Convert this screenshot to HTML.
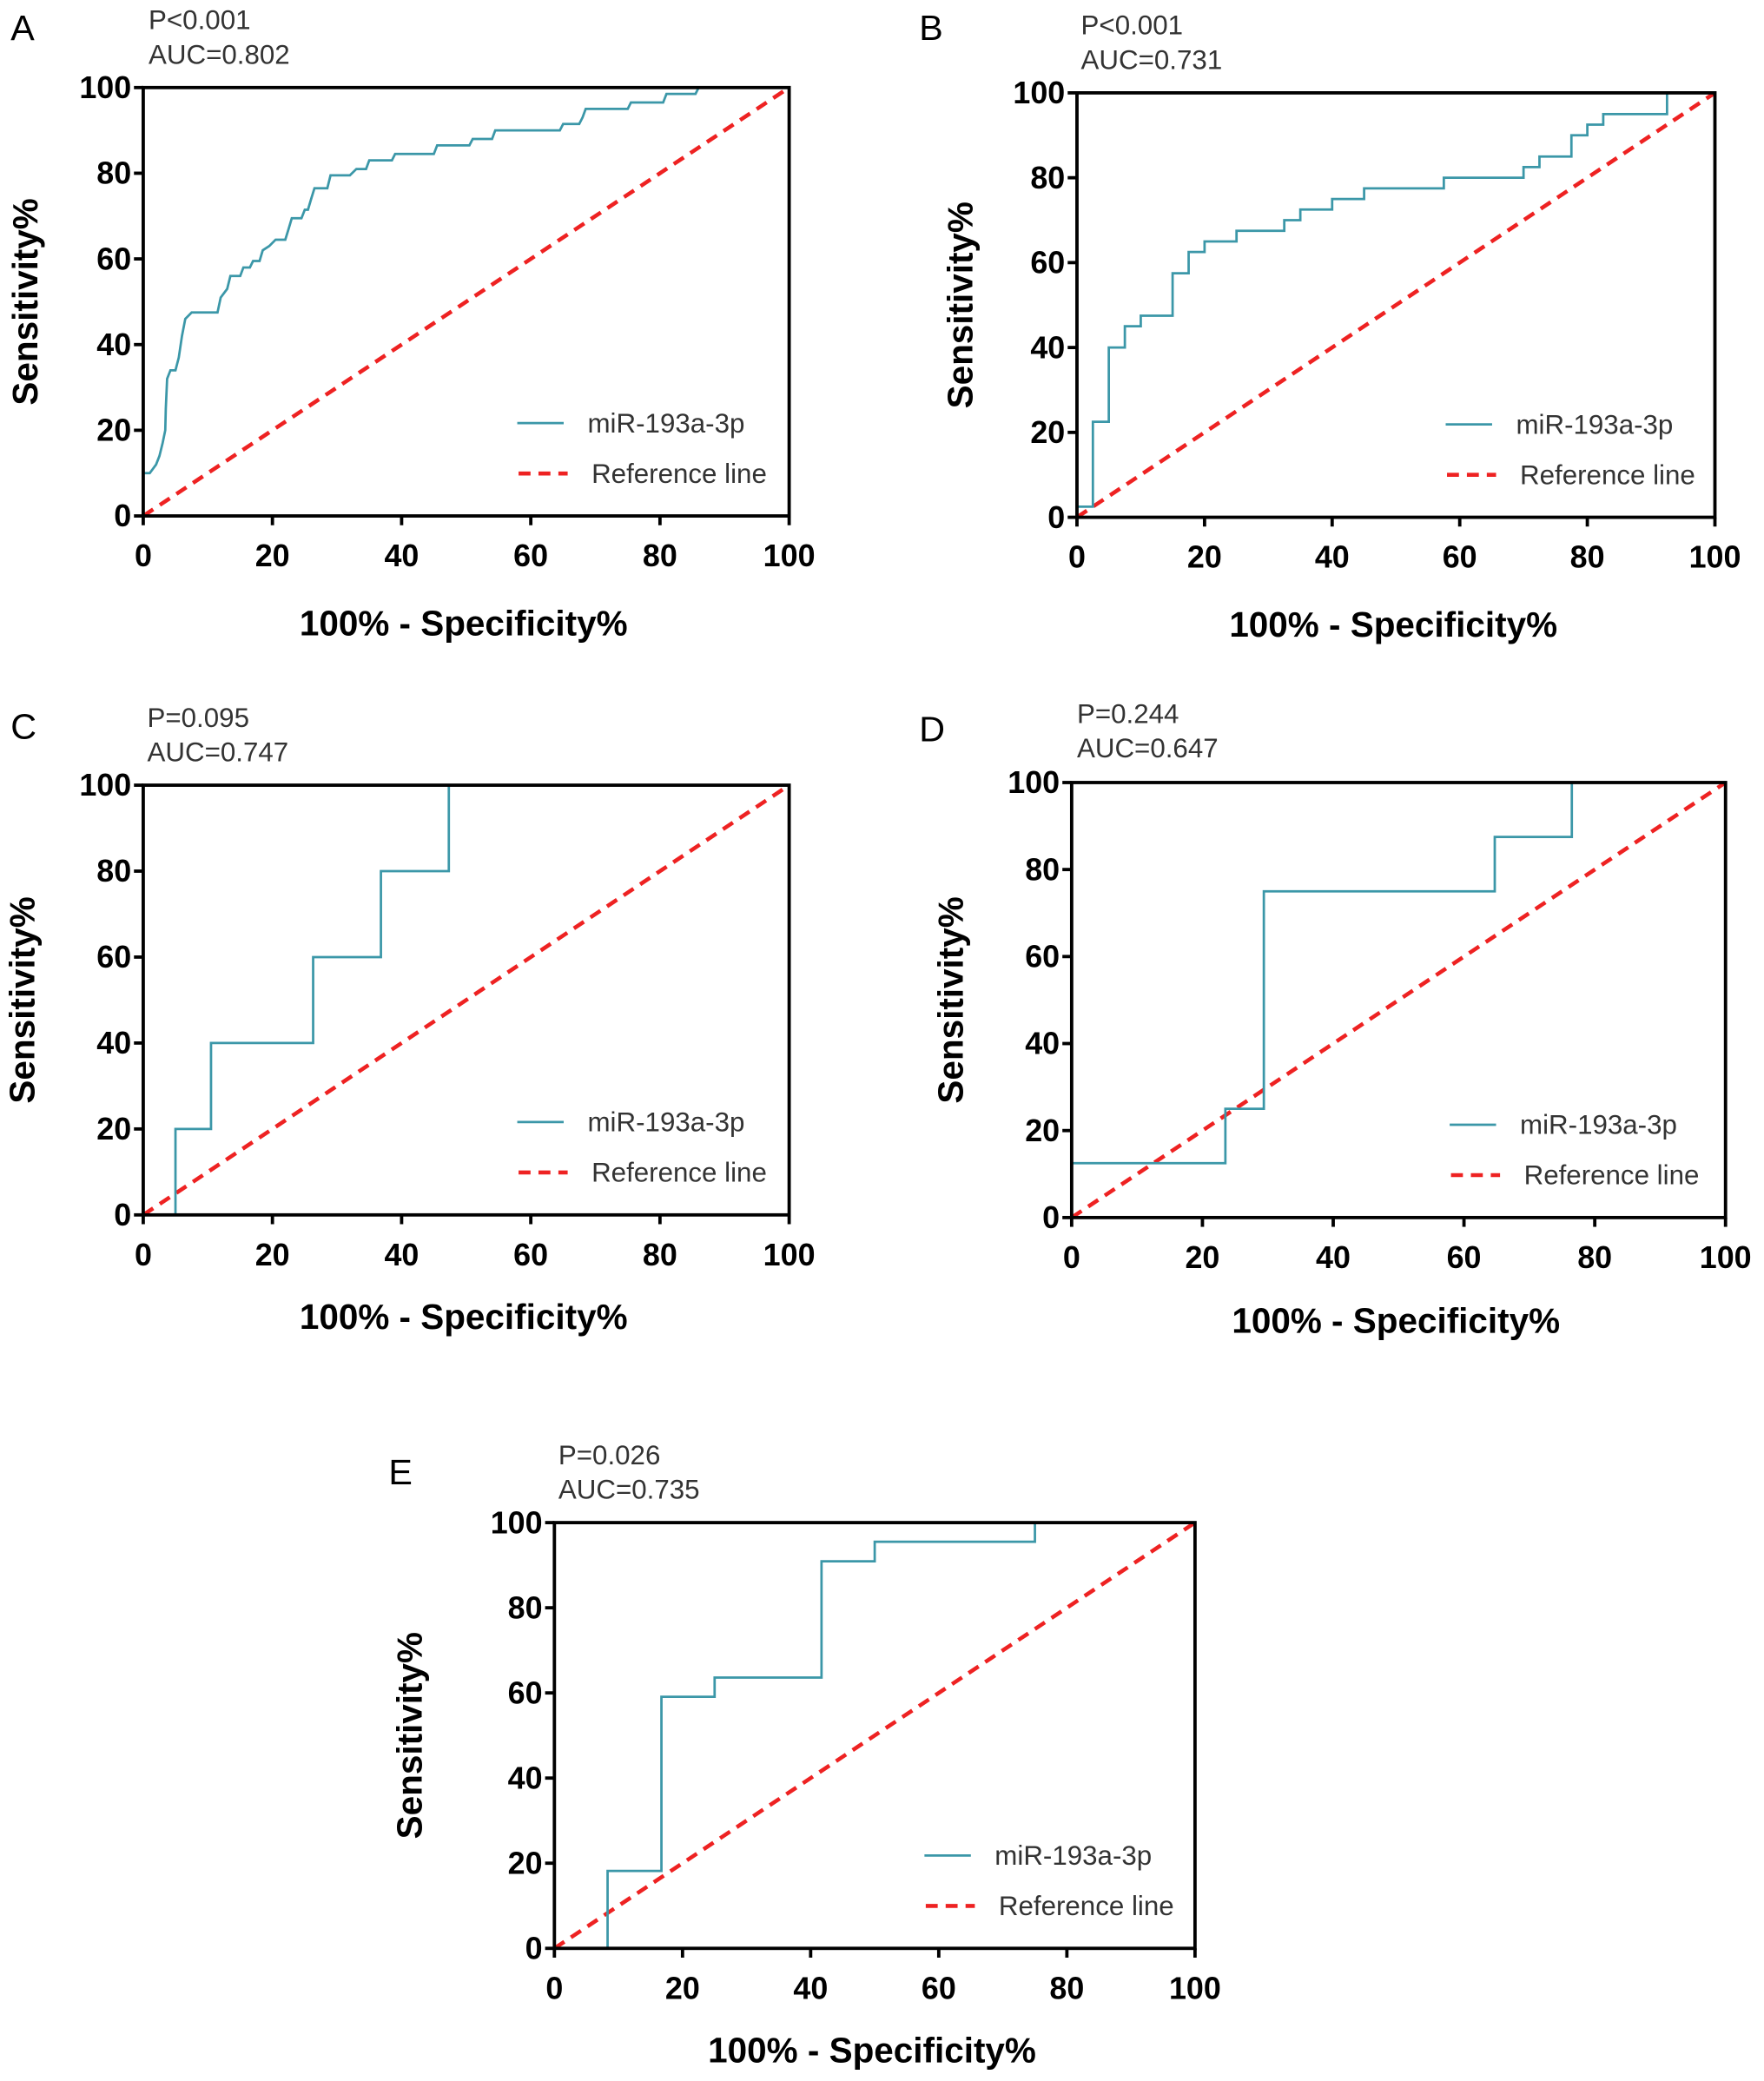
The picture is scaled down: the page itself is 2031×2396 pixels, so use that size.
<!DOCTYPE html>
<html><head><meta charset="utf-8"><style>
html,body{margin:0;padding:0;background:#fff;}
svg{display:block;}
text{font-family:"Liberation Sans",Arial,sans-serif;}
</style></head><body>
<svg id="fig" width="2031" height="2396" viewBox="0 0 1330 1569" xmlns="http://www.w3.org/2000/svg"></svg>
<script>
const ticks = [0, 20, 40, 60, 80, 100];
const labelsP = ["P<0.001", "P<0.001", "P=0.095", "P=0.244", "P=0.026"];
const labelsAUC = ["AUC=0.802", "AUC=0.731", "AUC=0.747", "AUC=0.647", "AUC=0.735"];
const panelLetters = ["A", "B", "C", "D", "E"];
const fprA = [0,0,1,1.5,2,2.5,3,3.4,3.5,3.7,4.2,5,5.5,6,6.5,7.5,11.5,12,13,13.5,15,15.5,16.5,17,18,18.5,19.5,20.5,22,22.5,23,24.5,25,25.5,26,26.5,28.5,29,32,33,34.5,35,38.5,39,45,45.5,50.5,51,54,54.5,64.5,65,67.5,68,68.5,75,75.5,80.5,81,85.5,86,100];
const tprA = [0,10,10,11,12,14,17,20,25,32,34,34,37,42,46,47.5,47.5,51,53,56,56,58,58,59.5,59.5,62,63,64.5,64.5,67,69.5,69.5,71.5,71.5,74,76.5,76.5,79.5,79.5,81,81,83,83,84.5,84.5,86.5,86.5,88,88,90,90,91.5,91.5,93,95,95,96.5,96.5,98.5,98.5,100,100];
const fprB = [0,0,2.5,2.5,5,5,7.5,7.5,10,10,15,15,17.5,17.5,20,20,25,25,32.5,32.5,35,35,40,40,45,45,57.5,57.5,70,70,72.5,72.5,77.5,77.5,80,80,82.5,82.5,92.5,92.5,100];
const tprB = [0,2.5,2.5,22.5,22.5,40,40,45,45,47.5,47.5,57.5,57.5,62.5,62.5,65,65,67.5,67.5,70,70,72.5,72.5,75,75,77.5,77.5,80,80,82.5,82.5,85,85,90,90,92.5,92.5,95,95,100,100];
const fprC = [5,5,10.5,10.5,26.3,26.3,36.8,36.8,47.3,47.3,100];
const tprC = [0,20,20,40,40,60,60,80,80,100,100];
const fprD = [0,0,23.5,23.5,29.4,29.4,64.7,64.7,76.5,76.5,100];
const tprD = [0,12.5,12.5,25,25,75,75,87.5,87.5,100,100];
const fprE = [0,8.3,8.3,16.7,16.7,25,25,41.7,41.7,50,50,75,75,100];
const tprE = [0,0,18.2,18.2,59.1,59.1,63.6,63.6,90.9,90.9,95.5,95.5,100,100];
const fprs = [fprA, fprB, fprC, fprD, fprE];
const tprs = [tprA, tprB, tprC, tprD, tprE];

const boxes = [
  {l:108,r:595,t:66,b:389, px:112,py:22, lx:8,ly:30, tickY:427, titleY:479, ytx:28, legL:390},
  {l:812,r:1293,t:70,b:390, px:815,py:26, lx:693,ly:30, tickY:428, titleY:480, ytx:733, legL:1090},
  {l:108,r:595,t:592,b:916, px:111,py:548, lx:8,ly:557, tickY:954, titleY:1002, ytx:26, legL:390},
  {l:808,r:1301,t:590,b:918, px:812,py:545, lx:693,ly:559, tickY:956, titleY:1005, ytx:726, legL:1093},
  {l:418,r:901,t:1148,b:1469, px:421,py:1104, lx:293,ly:1119, tickY:1507, titleY:1555, ytx:318, legL:697}
];
const NS = "http://www.w3.org/2000/svg";
const svg = document.getElementById('fig');
function mk(tag, attrs, parent) {
  const e = document.createElementNS(NS, tag);
  for (const k in attrs) e.setAttribute(k, attrs[k]);
  parent.appendChild(e);
  return e;
}
boxes.forEach((B, i) => {
  const g = mk('g', {}, svg);
  
  
  const xs = v => B.l + (B.r - B.l) * v / 100;
  const ys = v => B.b - (B.b - B.t) * v / 100;
  let t;
  t = mk('text', {x:B.lx, y:B.ly, 'font-size':27}, g); t.textContent = panelLetters[i];
  
  
  t = mk('text', {x:B.px, y:B.py, 'font-size':20.5, fill:'#333'}, g); t.textContent = labelsP[i];
  
  
  t = mk('text', {x:B.px, y:B.py + 26, 'font-size':20.5, fill:'#333'}, g); t.textContent = labelsAUC[i];
  
  
  const ref = mk('line', {x1:xs(0), y1:ys(0), x2:xs(100), y2:ys(100), stroke:'#ee2222', 'stroke-width':3, 'stroke-dasharray':'9,6'}, g);
  
  
  const pts = fprs[i].map((f, k) => xs(f).toFixed(1) + ',' + ys(tprs[i][k]).toFixed(1)).join(' ');
  const roc = mk('polyline', {points:pts, fill:'none', stroke:'#3b97a8', 'stroke-width':1.8}, g);
  
  
  const fr = mk('rect', {x:B.l, y:B.t, width:B.r - B.l, height:B.b - B.t, fill:'none', stroke:'#000', 'stroke-width':2.5}, g);
  
  
  ticks.forEach(v => {
    mk('line', {x1:xs(v), y1:B.b, x2:xs(v), y2:B.b + 7, stroke:'#000', 'stroke-width':2.5}, g);
    mk('line', {x1:B.l - 7, y1:ys(v), x2:B.l, y2:ys(v), stroke:'#000', 'stroke-width':2.5}, g);
    const tx = mk('text', {x:xs(v), y:B.tickY, 'font-size':23.5, 'font-weight':'bold', 'text-anchor':'middle'}, g);
    tx.textContent = v;
    
    
    const ty = mk('text', {x:B.l - 9, y:ys(v) + 8, 'font-size':23.5, 'font-weight':'bold', 'text-anchor':'end'}, g);
    ty.textContent = v;
    
    
  });
  t = mk('text', {x:(B.l + B.r) / 2 - 2, y:B.titleY, 'font-size':26.5, 'font-weight':'bold', 'text-anchor':'middle'}, g);
  t.textContent = '100% - Specificity%';
  
  
  const cy = (B.t + B.b) / 2;
  t = mk('text', {x:B.ytx, y:cy, 'font-size':26.5, 'font-weight':'bold', 'text-anchor':'middle', transform:'rotate(-90 ' + B.ytx + ' ' + cy + ')'}, g);
  t.textContent = 'Sensitivity%';
  
  
  const ly1 = B.b - 70, ly2 = B.b - 32;
  const lg = mk('g', {}, g);
  
  
  mk('line', {x1:B.legL, y1:ly1, x2:B.legL + 35, y2:ly1, stroke:'#3b97a8', 'stroke-width':1.8}, lg);
  t = mk('text', {x:B.legL + 53, y:ly1 + 7, 'font-size':20.5, fill:'#333'}, lg); t.textContent = 'miR-193a-3p';
  
  
  mk('line', {x1:B.legL + 1, y1:ly2, x2:B.legL + 38, y2:ly2, stroke:'#ee2222', 'stroke-width':3, 'stroke-dasharray':'9,6'}, lg);
  t = mk('text', {x:B.legL + 56, y:ly2 + 7, 'font-size':20.5, fill:'#333'}, lg); t.textContent = 'Reference line';
  
  
});
</script>
</body></html>
